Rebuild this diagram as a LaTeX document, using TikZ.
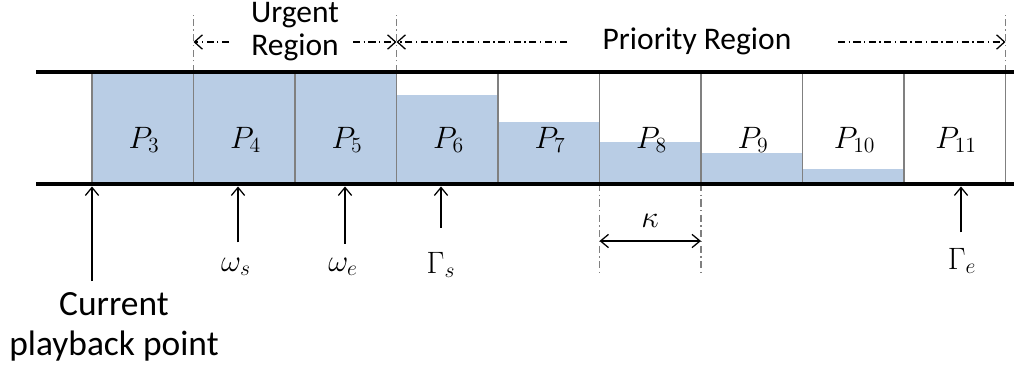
\documentclass[tikz,border=0pt]{standalone}
\usepackage{fix-cm}
\usepackage{fontspec}
\setmainfont{Carlito}
\usetikzlibrary{arrows.meta,positioning,calc}
\definecolor{bufBlue}{RGB}{185,205,229}
\definecolor{lineGray}{RGB}{128,128,128}

\begin{document}
\begin{tikzpicture}[x=0.025cm,y=-0.025cm,
    rail/.style={line width=3.5pt},
    divider/.style={draw=lineGray,line width=1.3pt},
    guide/.style={draw=lineGray,line width=0.8pt,dash pattern=on 5pt off 2.5pt on 1pt off 2.5pt},
    region/.style={line width=0.9pt,dash pattern=on 5pt off 2.5pt on 1pt off 2.5pt,-{Straight Barb[length=2mm,width=3.6mm]}},
    ptr/.style={line width=0.9pt,shorten >=1.75pt,-{Straight Barb[length=2mm,width=3.3mm]}},
    span/.style={line width=0.9pt,{Straight Barb[length=2mm,width=3.3mm]}-{Straight Barb[length=2mm,width=3.3mm]}},
    pkt/.style={font=\fontsize{22}{26}\selectfont,inner sep=0pt},
    sym/.style={font=\fontsize{22}{26}\selectfont,inner sep=2pt},
    toplbl/.style={font=\fontsize{22.4}{23.4}\selectfont,align=center,inner sep=1pt},
    botlbl/.style={font=\fontsize{25.2}{28.6}\selectfont,align=center,inner sep=1pt}
  ]
  \useasboundingbox (0,0) rectangle (1014,370);
  % cell borders on both rails
  \foreach \i in {0,...,9} {
    \coordinate (t\i) at (92+101.5*\i,72);
    \coordinate (b\i) at (92+101.5*\i,184);
  }
  % buffered part of each packet
  \foreach \n/\h [count=\k from 0] in {3/72,4/72,5/72,6/95,7/122,8/142,9/153,10/169,11/184} {
    \fill[bufBlue] (92+101.5*\k,\h) rectangle (193.5+101.5*\k,184);
    \node[pkt] (p\n) at (144+101.5*\k,140) {$P_{\n}$};
  }
  \foreach \i in {0,...,9}
    \draw[divider] (t\i) -- (b\i);

  % region marks
  \coordinate (g1) at (t1 |- 0,15);
  \coordinate (g3) at (t3 |- 0,15);
  \coordinate (g9) at (t9 |- 0,15);
  \draw[guide] (t1) -- (g1);
  \draw[guide] (t3) -- (g3);
  \draw[guide] (t9) -- (g9);
  \coordinate (k5) at (b5 |- 0,273);
  \coordinate (k6) at (b6 |- 0,273);
  \draw[guide] (b5) -- (k5);
  \draw[guide] (b6) -- (k6);

  \draw[rail] (36,72) -- (1014,72);
  \draw[rail] (36,184) -- (1014,184);

  \node[toplbl] (urgent) at (295,32) {Urgent\\Region};
  \node[toplbl] (prio) at (697,41) {Priority Region};
  \coordinate (ua) at (229,42);
  \coordinate (ub) at (353,42);
  \coordinate (pa) at (567,42);
  \coordinate (pb) at (838,42);
  \draw[region] (ua) -- (ua -| t1);
  \draw[region] (ub) -- (ub -| t3);
  \draw[region] (pa) -- (pa -| t3);
  \draw[region] (pb) -- (pb -| t9);

  % pointers to the buffer
  \node[botlbl] (cpp) at (114,327) {Current\\playback point};
  \node[sym] (ws) at (236,267) {$\omega_s$};
  \node[sym] (we) at (343,267) {$\omega_e$};
  \node[sym] (gs) at (441,265) {$\Gamma_s$};
  \node[sym] (ge) at (962,261) {$\Gamma_e$};
  \draw[ptr] ([yshift=7pt]cpp.north -| b0) -- (b0);
  \draw[ptr] ([yshift=9pt]ws.north -| 238,0) -- (b0 -| 238,0);
  \draw[ptr] ([yshift=8pt]we.north -| 345,0) -- (b0 -| 345,0);
  \draw[ptr] ([yshift=15pt]gs.north) -- (gs |- b0);
  \draw[ptr] ([yshift=9pt]ge.north -| 961,0) -- (b0 -| 961,0);

  % packet length
  \draw[span] (b5 |- 0,241) -- (b6 |- 0,241);
  \node[sym] (kappa) at (650,221) {$\kappa$};
\end{tikzpicture}
\end{document}
